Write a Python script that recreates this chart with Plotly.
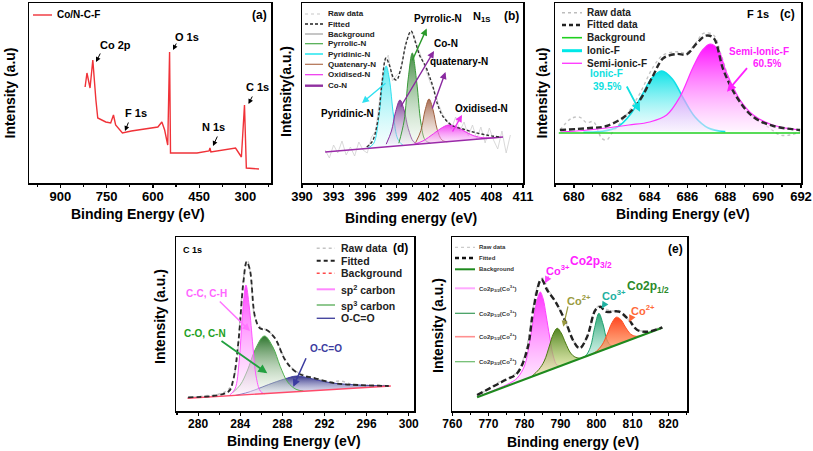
import plotly.graph_objects as go

W, H = 813, 451
FONT = "Liberation Sans, Arial, sans-serif"

# ---------------- data ----------------
# (a) survey spectrum
a_be = [820, 814, 804, 795, 785, 779, 753, 737, 728, 721, 699, 670, 584, 571, 562, 552, 546, 543,
        457, 418, 415, 412, 332, 313, 303, 297, 256]
a_int = [96, 110, 95, 123, 83, 65, 61, 60, 68, 58, 50, 52, 56, 61, 53, 38, 131, 30,
         30, 32, 35, 31, 35, 26, 78, 15, 14]

# (b) N 1s
b_raw_x = [392.2, 392.6, 393.0, 393.4, 393.8, 394.2, 394.6, 395.0, 395.4, 395.8, 396.2, 396.6, 397.0,
           397.4, 397.8, 398.2, 398.6, 399.0, 399.4, 399.8, 400.2, 400.6, 401.0, 401.4, 401.8, 402.2,
           402.6, 403.0, 403.4, 403.8, 404.2, 404.6, 405.0, 405.4, 405.8, 406.2, 406.6, 407.0, 407.4,
           407.8, 408.2, 408.6, 409.0, 409.4, 409.8]
b_raw_y = [33, 25, 38, 30, 42, 28, 36, 27, 41, 33, 30, 46, 52, 86, 120, 128, 102, 108, 112, 138, 150,
           148, 135, 124, 112, 100, 92, 78, 68, 62, 54, 66, 52, 61, 47, 58, 44, 56, 40, 55, 43, 34, 52,
           30, 48]
b_bg_x = [392.2, 409.1]
b_bg_y = [31, 46]
b_pyridinic_x = [396.2, 396.8, 397.3, 397.7, 398.0, 398.3, 398.7, 399.1, 399.6]
b_pyridinic_y = [34.5, 39.4, 65.7, 103.4, 117, 104, 67, 44, 37.5]
b_con_x = [398.0, 398.5, 398.9, 399.31, 399.7, 400.1, 400.6, 401.1]
b_con_y = [38.8, 52, 71.5, 83, 73, 54.3, 41.3, 38.9]
b_pyrrolic_x = [399.2, 399.7, 400.1, 400.48, 400.9, 401.3, 401.7, 402.2]
b_pyrrolic_y = [39.8, 62, 105, 130, 101, 60, 43, 39.8]
b_quat_x = [400.8, 401.3, 401.7, 402.07, 402.45, 402.85, 403.3, 403.8]
b_quat_y = [40.4, 52.5, 73, 84, 73.2, 53.5, 42.9, 41.2]
b_oxid_x = [400.6, 401.5, 402.5, 403.2, 403.9, 404.7, 405.5, 406.5, 407.5, 408.8]
b_oxid_y = [38.6, 42.1, 49.3, 54.6, 58, 56.2, 51.4, 46.6, 45.1, 45.6]
b_fit_x = [396.15, 396.7, 397.2, 397.6, 397.98, 398.3, 398.7, 398.99, 399.4, 399.9, 400.36, 400.8,
           401.2, 401.69, 402.1, 402.45, 402.9, 403.43, 404.35, 405.3, 406.25, 407.5, 408.81]
b_fit_y = [36, 42, 62, 100, 125, 118, 105, 103, 115, 140, 152, 140, 127, 118, 107, 96, 78, 66, 57,
           54, 51, 48, 46]

# (c) F 1s
c_raw_x = [679.26, 679.88, 680.32, 680.67, 681.03, 681.47, 681.73, 682.0, 682.44, 682.96, 683.49,
           684.2, 684.72, 685.43, 685.96, 686.49, 686.84, 687.37, 687.81, 688.42, 689.31, 690.36,
           690.89, 691.42, 691.95]
c_raw_y = [53, 64.7, 65.7, 60.3, 61.3, 44.7, 43, 49.7, 59.7, 73, 89.7, 116.3, 128, 131.3, 130.3,
           141.3, 149.7, 148, 126.3, 93, 69.7, 54.7, 48, 48, 51.3]
c_bg_x = [679.2, 691.95]
c_bg_y = [50, 50]
c_ionic_x = [680.5, 681.5, 682.3, 683.0, 683.6, 684.1, 684.64, 685.2, 685.8, 686.4, 687.1, 688.0]
c_ionic_y = [51, 51.7, 56, 69, 88, 104.4, 112, 104, 84, 66, 55, 51.4]
c_semi_x = [679.3, 680.5, 681.7, 682.9, 684.0, 684.9, 685.6, 686.3, 686.8, 687.19, 687.6, 688.07,
            688.78, 689.48, 690.5, 691.95]
c_semi_y = [51, 52.5, 55, 58, 61, 68, 86, 116, 133, 139, 134, 110, 83, 68, 58, 53]
c_fit_x = [679.26, 680.85, 681.73, 682.79, 683.49, 684.2, 684.72, 685.43, 685.96, 686.49, 686.97,
           687.37, 687.9, 688.6, 689.48, 690.54, 691.95]
c_fit_y = [53, 55, 57, 68, 83, 108, 124.7, 129, 128.7, 139.7, 147.3, 145.3, 113, 86, 66, 57, 53]

# (d) C 1s
d_raw_x = [279.0, 280.5, 282.0, 283.0, 283.6, 284.0, 284.4, 284.7, 285.0, 285.4, 285.9, 286.5,
           287.3, 288.2, 289.0, 289.8, 291.0, 292.5, 293.5, 294.5, 295.5, 296.5, 298.1]
d_raw_y = [13, 15, 17, 23, 44, 95, 140, 150, 135, 93, 84, 81, 73, 53, 42, 37, 33, 29, 30, 27, 25,
           26, 25]
d_bg_x = [279.0, 298.3]
d_bg_y = [12.7, 25]
d_sp2_x = [283.0, 283.5, 283.9, 284.2, 284.54, 284.85, 285.2, 285.5, 285.9, 286.3]
d_sp2_y = [16, 22, 50, 95, 126, 105, 65, 35, 20, 17]
d_sp3_x = [283.3, 284.0, 284.7, 285.4, 286.29, 287.1, 287.8, 288.5, 289.3, 290.0]
d_sp3_y = [18.6, 26, 41, 61, 75, 64, 44.5, 29, 21.7, 20]
d_oco_x = [283.5, 284.5, 285.5, 286.7, 288.2, 289.37, 290.5, 291.7, 293.0, 295.2, 298.1]
d_oco_y = [15.5, 18, 21.5, 26.5, 32, 35, 33, 30, 27.7, 26, 25]
d_fit_x = [279.05, 282.86, 283.33, 283.81, 284.29, 284.61, 284.92, 285.4, 285.87, 286.51, 287.3,
           288.26, 289.05, 289.85, 291.11, 293.0, 295.24, 298.1]
d_fit_y = [13.7, 19.3, 31, 67.7, 127.7, 149.3, 141, 94.3, 82.7, 81, 72.7, 51, 41, 36, 32.7, 27.7,
           26, 25]

# (e) Co 2p
e_raw_x = [766.86, 770, 773, 776, 778, 780, 782, 783.5, 785, 786.5, 788.5, 791, 793.5, 795.3, 797.5,
           799.5, 801, 802.5, 804.5, 806.5, 808.5, 810.5, 812.5, 814.5, 816.5, 818.25]
e_raw_y = [15, 22, 29, 34, 39, 55, 92, 124, 133, 122, 110, 92, 71, 63, 75, 100, 106, 102, 100, 100,
           93, 83, 80, 79, 82, 84]
e_bg_x = [766.86, 818.25]
e_bg_y = [13.7, 83.3]
e_co3a_x = [766.9, 772, 776, 778, 780, 781.5, 782.6, 783.6, 784.4, 785.2, 786.0, 787.0, 788.0, 789.0, 790.0]
e_co3a_y = [14, 21.5, 28, 33, 45, 70, 94, 112, 119, 112, 96, 74, 55, 46, 45.5]
e_co2a_x = [782.0, 784.0, 785.5, 787.0, 788.0, 789.1, 790.2, 791.4, 792.8, 794.0, 795.5]
e_co2a_y = [34.5, 41.5, 50, 66, 77, 82.7, 78, 68, 58, 54, 52.6]
e_co3b_x = [795.5, 797.0, 798.3, 799.5, 800.65, 801.8, 802.9, 804.0, 805.0]
e_co3b_y = [52.6, 55.3, 63.8, 83.7, 97.7, 86.9, 71, 65.4, 65.4]
e_co2b_x = [798.0, 800.0, 801.5, 803.0, 804.3, 805.5, 806.7, 808.0, 809.5, 811.0, 812.7]
e_co2b_y = [55.5, 59.8, 65.9, 77.1, 88.3, 93.8, 91.6, 84, 76.8, 74.7, 75.8]
e_fit_x = [766.86, 774.7, 777.97, 780.75, 782.6, 784.7, 786.3, 788.6, 791.4, 793.7, 795.3, 797.4,
           799.7, 801.1, 802.5, 806.2, 809.0, 811.3, 814.1, 818.25]
e_fit_y = [16, 31, 37.7, 61, 104.3, 131.7, 121, 109.3, 89.3, 69.3, 62.7, 74.3, 101, 104.3, 99.3,
           99.3, 91, 81, 79.3, 83.7]

# ---------------- figure ----------------
fig = go.Figure()

# panel frames in pixels: (left, top, right, bottom)
boxes = {1: (29, 3, 271, 183), 2: (302, 3, 523, 183), 3: (555, 3, 801, 183),
         4: (176, 237, 414, 411), 5: (452, 237, 687, 411)}
xranges = {1: [1002, 217], 2: [390, 411], 3: [679, 692], 4: [277.9, 300.5], 5: [759.9, 825.1]}
ticks = {1: (300, 150, 75), 2: (390, 3, 1.5), 3: (680, 2, 1), 4: (280, 4, 2), 5: (760, 10, 5)}
tfs = {1: 13, 2: 13, 3: 13, 4: 12, 5: 12}

layout = dict(width=W, height=H, margin=dict(l=0, r=0, t=0, b=0, autoexpand=False), showlegend=False,
              paper_bgcolor="white", plot_bgcolor="white")
for i, (l, t, r, b) in boxes.items():
    sx = "" if i == 1 else str(i)
    t0, dt, mdt = ticks[i]
    layout["xaxis" + sx] = dict(domain=[l / W, r / W], range=xranges[i], anchor="y" + sx,
                                automargin=False,
                                showline=True, mirror=True, linecolor="black", linewidth=1.5,
                                showgrid=False, zeroline=False, ticks="outside", ticklen=3,
                                ticklabelstandoff=-2,
                                tickwidth=1.2, tickcolor="black", tickmode="linear", tick0=t0,
                                dtick=dt, minor=dict(ticks="outside", ticklen=2, dtick=mdt,
                                                     tick0=t0, tickcolor="black", showgrid=False),
                                tickfont=dict(family=FONT, size=tfs[i], color="black", weight="bold"))
    layout["yaxis" + sx] = dict(domain=[1 - b / H, 1 - t / H], range=[0, b - t], anchor="x" + sx,
                                automargin=False,
                                showline=True, mirror=True, linecolor="black", linewidth=1.5,
                                showgrid=False, zeroline=False, showticklabels=False, ticks="")
fig.update_layout(**layout)


def ax(i):
    s = "" if i == 1 else str(i)
    return "x" + s, "y" + s


def line(i, x, y, color, width=1.0, dash="solid", shape="spline"):
    xa, ya = ax(i)
    fig.add_trace(go.Scatter(x=x, y=y, mode="lines", xaxis=xa, yaxis=ya, hoverinfo="skip",
                             line=dict(color=color, width=width, dash=dash, shape=shape)))


def peak(i, x, y, color, top, bottom, width=1.0):
    xa, ya = ax(i)
    fig.add_trace(go.Scatter(x=x, y=y, mode="lines", xaxis=xa, yaxis=ya, hoverinfo="skip",
                             fill="toself",
                             fillgradient=dict(type="vertical", colorscale=[[0, bottom], [1, top]]),
                             line=dict(color=color, width=width, shape="spline")))


# (a)
line(1, a_be, a_int, "#f03238", 1.4, shape="linear")

# (b)
line(2, b_raw_x, b_raw_y, "#cfcfcf", 0.8, shape="linear")
peak(2, b_pyridinic_x, b_pyridinic_y, "#30e0f0", "rgba(70,232,240,0.9)", "rgba(225,250,250,0.3)")
peak(2, b_con_x, b_con_y, "#8a2aa0", "rgba(105,40,135,0.9)", "rgba(232,215,240,0.3)")
peak(2, b_pyrrolic_x, b_pyrrolic_y, "#3a9a3a", "rgba(45,125,45,0.9)", "rgba(222,240,222,0.3)")
peak(2, b_quat_x, b_quat_y, "#a06040", "rgba(150,80,50,0.85)", "rgba(240,225,215,0.3)")
peak(2, b_oxid_x, b_oxid_y, "#ee30ee", "rgba(240,40,240,0.9)", "rgba(250,205,250,0.4)")
line(2, b_bg_x, b_bg_y, "#9a2aa8", 1.6, shape="linear")
line(2, b_fit_x, b_fit_y, "#333333", 1.4, dash="3px,2px")

# (c)
line(3, c_raw_x, c_raw_y, "#c4c4c4", 1.4, dash="dot")
peak(3, c_ionic_x, c_ionic_y, "#10e0e8", "rgba(0,225,230,0.95)", "rgba(235,252,252,0.5)", 1.6)
peak(3, c_semi_x, c_semi_y, "#ff30ff", "rgba(255,0,255,0.95)", "rgba(255,235,255,0.5)", 1.2)
line(3, c_bg_x, c_bg_y, "#20d020", 1.6, shape="linear")
line(3, c_fit_x, c_fit_y, "#2a2a2a", 2.4, dash="6px,3px")

# (d)
line(4, d_raw_x, d_raw_y, "#c4c4c4", 1.4, dash="dot")
peak(4, d_oco_x, d_oco_y, "#4040a0", "rgba(40,40,130,0.95)", "rgba(225,225,245,0.4)")
peak(4, d_sp3_x, d_sp3_y, "#50b050", "rgba(35,110,35,0.95)", "rgba(235,245,230,0.35)")
peak(4, d_sp2_x, d_sp2_y, "#ff55ff", "rgba(255,50,255,0.95)", "rgba(255,230,255,0.4)")
line(4, d_bg_x, d_bg_y, "#ff4a6a", 1.4, shape="linear")
line(4, d_fit_x, d_fit_y, "#2a2a2a", 1.8, dash="5px,3px")

# (e)
line(5, e_raw_x, e_raw_y, "#d0d0d0", 1.6, dash="dot")
peak(5, e_co3a_x, e_co3a_y, "#ff44ff", "rgba(255,40,255,0.95)", "rgba(255,240,255,0.5)")
peak(5, e_co2a_x, e_co2a_y, "#4a7a10", "rgba(70,125,20,0.95)", "rgba(240,245,160,0.6)")
peak(5, e_co3b_x, e_co3b_y, "#20a070", "rgba(30,160,110,0.95)", "rgba(170,230,210,0.5)")
peak(5, e_co2b_x, e_co2b_y, "#ff5020", "rgba(255,60,20,0.95)", "rgba(255,170,110,0.7)")
line(5, e_bg_x, e_bg_y, "#1e8a1e", 2.2, shape="linear")
line(5, e_fit_x, e_fit_y, "#222222", 2.4, dash="6px,3px")


# ---------------- decorations ----------------
def P(x, y):
    return x / W, 1 - y / H


def text(x, y, s, size, color="black", anchor="center", angle=0):
    xx, yy = P(x, y)
    fig.add_annotation(x=xx, y=yy, xref="paper", yref="paper", text=s, showarrow=False,
                       font=dict(family=FONT, size=size, color=color), xanchor=anchor,
                       yanchor="middle", textangle=angle)


def arrow(tx, ty, hx, hy, color, width=1.4):
    xx, yy = P(hx, hy)
    fig.add_annotation(x=xx, y=yy, xref="paper", yref="paper", ax=tx - hx, ay=ty - hy,
                       axref="pixel", ayref="pixel", text="", showarrow=True, arrowhead=2,
                       arrowsize=1, arrowwidth=width, arrowcolor=color)


def leg(x0, x1, y, color, width, dash="solid"):
    fig.add_shape(type="line", xref="paper", yref="paper", x0=x0 / W, x1=x1 / W, y0=1 - y / H,
                  y1=1 - y / H, line=dict(color=color, width=width, dash=dash))


# axis titles
text(9.5, 93, "<b>Intensity (a.u)</b>", 14, angle=-90)
text(138, 214, "<b>Binding Energy (eV)</b>", 14)
text(286, 92, "<b>Intensity(a.u.)</b>", 14, angle=-90)
text(411, 218, "<b>Binding energy (eV)</b>", 14)
text(541.5, 93, "<b>Intensity (a.u)</b>", 14, angle=-90)
text(682.5, 214, "<b>Binding Energy (eV)</b>", 14)
text(160, 317, "<b>Intensity (a.u.)</b>", 14, angle=-90)
text(294, 441, "<b>Binding Energy (eV)</b>", 14)
text(438, 326, "<b>Intensity (a.u.)</b>", 14, angle=-90)
text(573, 442, "<b>Binding energy (eV)</b>", 14)

# (a)
leg(33, 52, 15, "#f03238", 1.4)
text(55, 15, "<b>Co/N-C-F</b>", 10, anchor="left")
text(259, 15, "<b>(a)</b>", 12)
text(115, 45, "<b>Co 2p</b>", 11)
arrow(101, 52, 96, 62, "black", 1.0)
text(187, 37, "<b>O 1s</b>", 11)
arrow(177, 42, 173, 50, "black", 1.0)
text(136, 113, "<b>F 1s</b>", 11)
arrow(129, 121, 125, 131, "black", 1.0)
text(213, 127, "<b>N 1s</b>", 11)
arrow(218, 135, 213, 146, "black", 1.0)
text(257, 87, "<b>C 1s</b>", 11)
arrow(253, 95, 248.5, 104, "black", 1.0)

# (b)
b_leg = [(14, "Raw data", "#c8c8c8", 1.2, "dot"), (24, "Fitted", "#222222", 1.6, "3px,2px"),
         (34, "Background", "#a0a0a0", 1.2, "solid"), (43.7, "Pyrrolic-N", "#4aaa4a", 1.2, "solid"),
         (54, "Pyridinic-N", "#30e8f0", 1.6, "solid"), (64.3, "Quatenary-N", "#b07050", 1.2, "solid"),
         (74.7, "Oxidised-N", "#ee33ee", 1.2, "solid"), (85.7, "Co-N", "#9030a0", 2.4, "solid")]
for y, s, c, w, d in b_leg:
    leg(305, 323, y, c, w, d)
    text(326, y, "<b>" + s + "</b>", 8, color="#222222", anchor="left")
text(481, 17, "<b>N<sub>1S</sub></b>", 11)
text(511, 16, "<b>(b)</b>", 12)
text(438, 18, "<b>Pyrrolic-N</b>", 10)
arrow(411.7, 61.7, 426.7, 28.5, "#2a9a2a")
text(446, 43, "<b>Co-N</b>", 10)
arrow(400, 108, 434, 51, "#8a2aa0")
text(459, 61, "<b>quatenary-N</b>", 10)
arrow(431.7, 110, 445.5, 72, "#8a2aa0")
text(481, 108, "<b>Oxidised-N</b>", 10)
arrow(451.7, 133, 462, 115, "#ee30ee")
text(347.5, 114, "<b>Pyridinic-N</b>", 10)
arrow(387, 82, 362, 103, "#30e0f0")

# (c)
c_leg = [(12.7, "Raw data", "#bdbdbd", 1.4, "dot"), (25, "Fitted data", "#222222", 2.6, "4px,3px"),
         (37.7, "Background", "#20d020", 1.6, "solid"), (50.7, "Ionic-F", "#00e8e8", 3.0, "solid"),
         (63.3, "Semi-ionic-F", "#ff40ff", 1.4, "solid")]
for y, s, c, w, d in c_leg:
    leg(562, 582, y, c, w, d)
    text(584.5, y, "<b>" + s + "</b>", 10, color="#222222", anchor="left")
text(758, 14, "<b>F 1s</b>", 11)
text(787, 14, "<b>(c)</b>", 12)
text(759, 51.7, "<b>Semi-Ionic-F</b>", 10, color="#ff22ff")
text(766.7, 63.3, "<b>60.5%</b>", 10, color="#ff22ff")
arrow(748.3, 66.7, 727, 91.7, "#ff22ff", 1.8)
text(606.7, 73.5, "<b>Ionic-F</b>", 10, color="#10e0e0")
text(606.7, 86.5, "<b>39.5%</b>", 10, color="#10e0e0")
arrow(626, 85, 640, 111.7, "#10e0e0", 1.8)

# (d)
d_leg = [(248.3, "Raw data", "#c4c4c4", 1.4, "dot"), (260.7, "Fitted", "#222222", 2.0, "4px,3px"),
         (273.3, "Background", "#ff4a4a", 1.6, "dot"), (289.3, "sp<sup>2</sup> carbon", "#ff88ff", 2.0, "solid"),
         (305, "sp<sup>3</sup> carbon", "#60b060", 1.4, "solid"), (318.3, "O-C=O", "#4848a0", 1.4, "solid")]
for y, s, c, w, d in d_leg:
    leg(316.7, 335, y, c, w, d)
    text(339.3, y, "<b>" + s + "</b>", 10.5, color="#222222", anchor="left")
text(192.5, 250, "<b>C 1s</b>", 9)
text(400.8, 248.3, "<b>(d)</b>", 12)
text(206.7, 293.3, "<b>C-C, C-H</b>", 10, color="#ff66ff")
arrow(218.3, 300, 250, 331, "#ff77ff", 1.5)
text(205, 333.3, "<b>C-O, C-N</b>", 10, color="#22a022")
arrow(220, 340, 267.3, 373.3, "#22a040", 1.8)
text(326.3, 348.3, "<b>O-C=O</b>", 10, color="#3c3ca0")
arrow(306.7, 356.7, 293.3, 386.7, "#3c3ca0", 1.5)

# (e)
e_leg = [(247.3, "Raw data", "#cccccc", 1.2, "dot"), (258, "Fitted", "#111111", 2.4, "4px,3px"),
         (269.3, "Background", "#1e8a1e", 2.0, "solid"),
         (288.3, "Co2p<sub>3/2</sub>(Co<sup>3+</sup>)", "#ffaaff", 2.0, "solid"),
         (313.3, "Co2p<sub>1/2</sub>(Co<sup>3+</sup>)", "#3a9a5a", 1.2, "solid"),
         (336.7, "Co2p<sub>1/2</sub>(Co<sup>2+</sup>)", "#ff9090", 1.6, "solid"),
         (361.7, "Co2p<sub>3/2</sub>(Co<sup>2+</sup>)", "#6aba6a", 1.2, "solid")]
for y, s, c, w, d in e_leg:
    leg(455, 475, y, c, w, d)
    text(477, y, "<b>" + s + "</b>", 6, color="#333333", anchor="left")
text(675, 249, "<b>(e)</b>", 12)
text(557.5, 270, "<b>Co<sup>3+</sup></b>", 11, color="#ff22ff")
text(591, 262, "<b>Co2p<sub>3/2</sub></b>", 12, color="#ff22ff")
arrow(549.3, 275, 545, 283.3, "#ff44ff", 1.4)
text(579, 300, "<b>Co<sup>2+</sup></b>", 11, color="#9a9a40")
arrow(568.3, 305, 563.3, 326.7, "#9a9a40", 1.2)
text(614, 295, "<b>Co<sup>3+</sup></b>", 11, color="#20b0a0")
arrow(605, 303.3, 601.7, 308.5, "#20b0a0", 1.4)
text(647.5, 286.7, "<b>Co2p<sub>1/2</sub></b>", 12, color="#2a8a2a")
text(643, 310, "<b>Co<sup>2+</sup></b>", 11, color="#ff6a3a")
arrow(632.7, 315, 629.3, 322, "#ff6a3a", 1.4)

fig.write_html("out.html", config={"displayModeBar": False, "staticPlot": True},
               post_script="document.body.style.margin='0';document.body.style.padding='0';")
